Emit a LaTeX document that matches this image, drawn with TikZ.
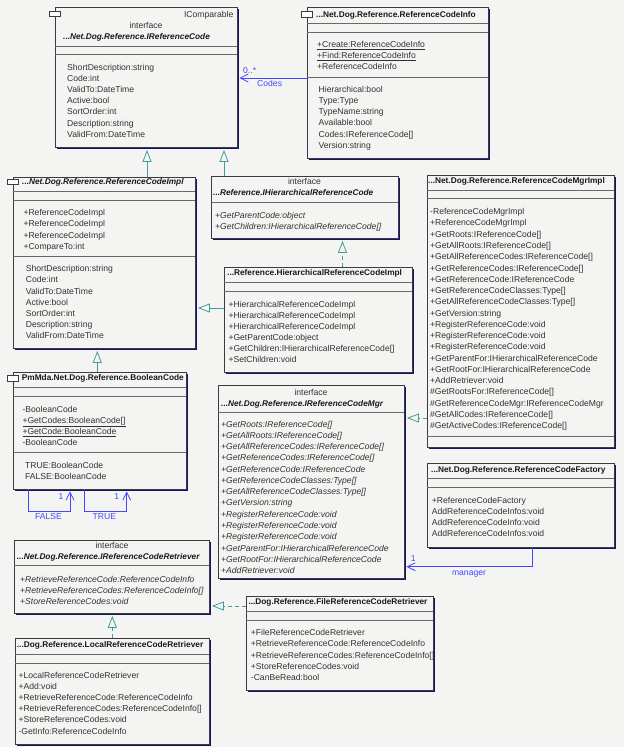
\documentclass[tikz,border=0pt]{standalone}
\usepackage{fontspec}
\setmainfont{Liberation Sans}
\usetikzlibrary{arrows.meta,fit,shadows}
\definecolor{bg}{RGB}{244,245,243}
\definecolor{bordc}{RGB}{60,60,60}
\definecolor{sepc}{RGB}{105,105,105}
\definecolor{shadowc}{RGB}{20,20,110}
\definecolor{txtc}{RGB}{50,50,50}
\definecolor{genc}{RGB}{70,155,155}
\definecolor{assocc}{RGB}{70,70,255}
\tikzset{
  cls/.style={draw=bordc, fill=bg, line width=0.8pt, inner sep=0pt,
    drop shadow={shadow xshift=2pt, shadow yshift=-2pt, fill=shadowc, opacity=1}},
  txt/.style={anchor=base west, inner sep=0pt, text=txtc, font=\fontsize{8.6}{10}\selectfont},
  itx/.style={font=\fontsize{8.6}{10}\selectfont\itshape},
  ttl/.style={anchor=base west, inner sep=0pt, text=black!90, font=\fontsize{8.3}{10}\selectfont\bfseries},
  ttli/.style={ttl, font=\fontsize{8.3}{10}\selectfont\bfseries\itshape},
  sepline/.style={draw=sepc, line width=0.8pt},
  gen/.style={draw=genc, line width=0.8pt, shorten >=2.5pt, -{Triangle[open, length=12pt, width=9pt]}},
  real/.style={gen, dash pattern=on 4pt off 3pt},
  assoc/.style={draw=assocc, line width=0.8pt, shorten >=2pt, -{Straight Barb[length=8pt, width=8pt]}},
  lbl/.style={inner sep=0pt, text=assocc, font=\fontsize{8.6}{10}\selectfont},
  tabicon/.style={draw=bordc, fill=white, line width=0.7pt, inner sep=0pt, minimum width=11pt, minimum height=5.5pt},
}
\newcommand\mylines[6]{\foreach \t [count=\i] in {#6} {\node[txt,#5] (#1\i) at (#2,{#3+(\i-1)*#4}) {\t};}}
\newcommand\myseps[2]{\foreach \s in {#2} {\draw[sepline] (#1.west |- 0,\s) -- (#1.east |- 0,\s);}}
\begin{document}
\begin{tikzpicture}[x=1pt,y=-1pt]
\fill[bg] (0,0) rectangle (624,747);
\useasboundingbox (0,0) rectangle (624,747);

% ---------- boxes ----------
\node[cls, fit={(55,7) (237,147)}] (irc) {};
\node[cls, fit={(307,7) (488,158)}] (rci) {};
\node[cls, fit={(13,177) (195,348)}] (rcimpl) {};
\node[cls, fit={(211,176) (398,238)}] (ihrc) {};
\node[cls, fit={(224,267) (412,372)}] (hrcimpl) {};
\node[cls, fit={(427,175) (614,447)}] (mgrimpl) {};
\node[cls, fit={(13,372) (186,489)}] (bool) {};
\node[cls, fit={(218,385) (404,578)}] (imgr) {};
\node[cls, fit={(427,463) (614,547)}] (factory) {};
\node[cls, fit={(14,540) (209,613)}] (iret) {};
\node[cls, fit={(246,596) (433,690)}] (fret) {};
\node[cls, fit={(15,638) (209,744)}] (lret) {};

% ---------- separators ----------
\myseps{irc}{46,54}
\myseps{rci}{23.3,32.3,77.3}
\myseps{rcimpl}{191.7,200,256}
\myseps{ihrc}{202.7}
\myseps{hrcimpl}{282.3,291}
\myseps{mgrimpl}{190,198.3,436}
\myseps{bool}{387.7,396.7,452.3}
\myseps{imgr}{412.7}
\myseps{factory}{478.3,487.3}
\myseps{iret}{565}
\myseps{fret}{611.7,620}
\myseps{lret}{654.3,663.3}

% ---------- tab icons ----------
\node[tabicon] (irctab) at (55,14) {};
\node[tabicon] (rcitab) at (307,14.2) {};
\node[tabicon] (rcimpltab) at (13,181.7) {};
\node[tabicon] (booltab) at (13,378.2) {};

% ---------- IReferenceCode ----------
\node[txt, anchor=base east] (ircic) at (233.5,17) {IComparable};
\node[txt, anchor=base] (ircif) at (146,28) {interface};
\node[ttli] (ircname) at (63,39) {...Net.Dog.Reference.IReferenceCode};
\mylines{irca}{67}{70}{11.2}{}{ShortDescription:string,Code:int,ValidTo:DateTime,Active:bool,SortOrder:int,Description:string,ValidFrom:DateTime}

% ---------- ReferenceCodeInfo ----------
\node[ttl] (rciname) at (316,17.3) {...Net.Dog.Reference.ReferenceCodeInfo};
\mylines{rcim}{317}{47.3}{11.2}{}{{\underline{+Create:ReferenceCodeInfo}},{\underline{+Find:ReferenceCodeInfo}},+ReferenceCodeInfo}
\mylines{rcia}{318.5}{92.3}{11.2}{}{Hierarchical:bool,Type:Type,TypeName:string,Available:bool,Codes:IReferenceCode[],Version:string}

% ---------- ReferenceCodeImpl ----------
\node[ttli] (rcimplname) at (22,184.7) {...Net.Dog.Reference.ReferenceCodeImpl};
\mylines{rcimplm}{23.3}{215.7}{11.2}{}{+ReferenceCodeImpl,+ReferenceCodeImpl,+ReferenceCodeImpl,+CompareTo:int}
\mylines{rcimpla}{25.7}{271.7}{11.2}{}{ShortDescription:string,Code:int,ValidTo:DateTime,Active:bool,SortOrder:int,Description:string,ValidFrom:DateTime}

% ---------- IHierarchicalReferenceCode ----------
\node[txt, anchor=base] (ihrcif) at (304.5,184.7) {interface};
\node[ttli] (ihrcname) at (213,195.7) {...Reference.IHierarchicalReferenceCode};
\mylines{ihrcm}{215}{218}{11.2}{itx}{+GetParentCode:object,+GetChildren:IHierarchicalReferenceCode[]}

% ---------- HierarchicalReferenceCodeImpl ----------
\node[ttl] (hrcimplname) at (227,275.3) {...Reference.HierarchicalReferenceCodeImpl};
\mylines{hrcimplm}{228.3}{307}{11.15}{}{+HierarchicalReferenceCodeImpl,+HierarchicalReferenceCodeImpl,+HierarchicalReferenceCodeImpl,+GetParentCode:object,+GetChildren:IHierarchicalReferenceCode[],+SetChildren:void}

% ---------- ReferenceCodeMgrImpl ----------
\node[ttl] (mgrimplname) at (428,183.7) {...Net.Dog.Reference.ReferenceCodeMgrImpl};
\mylines{mgrimplm}{430}{214.7}{11.26}{}{-ReferenceCodeMgrImpl,+ReferenceCodeMgrImpl,+GetRoots:IReferenceCode[],+GetAllRoots:IReferenceCode[],+GetAllReferenceCodes:IReferenceCode[],+GetReferenceCodes:IReferenceCode[],+GetReferenceCode:IReferenceCode,+GetReferenceCodeClasses:Type[],+GetAllReferenceCodeClasses:Type[],+GetVersion:string,+RegisterReferenceCode:void,+RegisterReferenceCode:void,+RegisterReferenceCode:void,+GetParentFor:IHierarchicalReferenceCode,+GetRootFor:IHierarchicalReferenceCode,+AddRetriever:void,\#GetRootsFor:IReferenceCode[],\#GetReferenceCodeMgr:IReferenceCodeMgr,\#GetAllCodes:IReferenceCode[],\#GetActiveCodes:IReferenceCode[]}

% ---------- BooleanCode ----------
\node[ttl] (boolname) at (21.7,380.7) {PmMda.Net.Dog.Reference.BooleanCode};
\mylines{boolm}{22.3}{412}{11.2}{}{-BooleanCode,{\underline{+GetCodes:BooleanCode[]}},{\underline{+GetCode:BooleanCode}},-BooleanCode}
\mylines{boola}{25}{468}{11.3}{}{TRUE:BooleanCode,FALSE:BooleanCode}

% ---------- IReferenceCodeMgr ----------
\node[txt, anchor=base] (imgrif) at (311,395.3) {interface};
\node[ttli] (imgrname) at (221,406.3) {...Net.Dog.Reference.IReferenceCodeMgr};
\mylines{imgrm}{221}{427}{11.28}{itx}{+GetRoots:IReferenceCode[],+GetAllRoots:IReferenceCode[],+GetAllReferenceCodes:IReferenceCode[],+GetReferenceCodes:IReferenceCode[],+GetReferenceCode:IReferenceCode,+GetReferenceCodeClasses:Type[],+GetAllReferenceCodeClasses:Type[],+GetVersion:string,+RegisterReferenceCode:void,+RegisterReferenceCode:void,+RegisterReferenceCode:void,+GetParentFor:IHierarchicalReferenceCode,+GetRootFor:IHierarchicalReferenceCode,+AddRetriever:void}

% ---------- ReferenceCodeFactory ----------
\node[ttl] (factoryname) at (431,472) {...Net.Dog.Reference.ReferenceCodeFactory};
\mylines{factorym}{431.7}{503}{11.2}{}{+ReferenceCodeFactory,AddReferenceCodeInfos:void,AddReferenceCodeInfo:void,AddReferenceCodeInfos:void}

% ---------- IReferenceCodeRetriever ----------
\node[txt, anchor=base] (iretif) at (112,548.7) {interface};
\node[ttli] (iretname) at (16.7,559.7) {...Net.Dog.Reference.IReferenceCodeRetriever};
\mylines{iretm}{20}{582}{11.2}{itx}{+RetrieveReferenceCode:ReferenceCodeInfo,+RetrieveReferenceCodes:ReferenceCodeInfo[],+StoreReferenceCodes:void}

% ---------- FileReferenceCodeRetriever ----------
\node[ttl] (fretname) at (248.3,604.7) {...Dog.Reference.FileReferenceCodeRetriever};
\mylines{fretm}{250.7}{635.7}{11.2}{}{+FileReferenceCodeRetriever,+RetrieveReferenceCode:ReferenceCodeInfo,+RetrieveReferenceCodes:ReferenceCodeInfo[],+StoreReferenceCodes:void,-CanBeRead:bool}

% ---------- LocalReferenceCodeRetriever ----------
\node[ttl] (lretname) at (16.7,647.3) {...Dog.Reference.LocalReferenceCodeRetriever};
\mylines{lretm}{18.3}{678}{11.2}{}{+LocalReferenceCodeRetriever,+Add:void,+RetrieveReferenceCode:ReferenceCodeInfo,+RetrieveReferenceCodes:ReferenceCodeInfo[],+StoreReferenceCodes:void,-GetInfo:ReferenceCodeInfo}

% ---------- generalizations / realizations ----------
\draw[gen] (rcimpl.north -| 147,0) -- (irc.south -| 147,0);
\draw[gen] (ihrc.north -| 224,0) -- (irc.south -| 224,0);
\draw[real] (hrcimpl.north -| 342.5,0) -- (ihrc.south -| 342.5,0);
\draw[gen] (hrcimpl.west |- 0,308) -- (rcimpl.east |- 0,308);
\draw[gen] (bool.north -| 97.3,0) -- (rcimpl.south -| 97.3,0);
\draw[real] (mgrimpl.west |- 0,418) -- (imgr.east |- 0,418);
\draw[real] (fret.west |- 0,606) -- (iret.east |- 0,606);
\draw[real] (lret.north -| 112.3,0) -- (iret.south -| 112.3,0);

% ---------- associations ----------
\draw[assoc] (rci.west |- 0,78) -- (irc.east |- 0,78);
\node[lbl, anchor=base west] (codesmult) at (243,73.5) {0..*};
\node[lbl, anchor=base west] (codesname) at (257,86.7) {Codes};

\draw[assoc] (factory.south -| 532.7,0) |- (imgr.east |- 0,566.7);
\node[lbl, anchor=base] (managermult) at (413.3,561.5) {1};
\node[lbl, anchor=base] (managername) at (469,575.5) {manager};

\draw[assoc] (bool.south -| 28.3,0) -- (28.3,511) -| (bool.south -| 70,0);
\node[lbl, anchor=base] (falsemult) at (61,499.7) {1};
\node[lbl, anchor=base] (falsename) at (48.5,519.7) {FALSE};
\draw[assoc] (bool.south -| 84.3,0) -- (84.3,511) -| (bool.south -| 126.7,0);
\node[lbl, anchor=base] (truemult) at (116.7,499.7) {1};
\node[lbl, anchor=base] (truename) at (104.3,519.7) {TRUE};
\end{tikzpicture}
\end{document}
